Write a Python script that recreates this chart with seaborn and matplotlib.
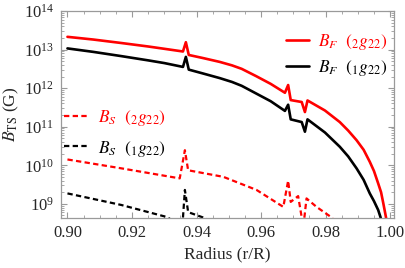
import numpy as np
import pandas as pd
import matplotlib
matplotlib.use("Agg")
import matplotlib.pyplot as plt
import seaborn as sns
from matplotlib.ticker import LogLocator, MultipleLocator, FormatStrFormatter, NullFormatter

# ---- data (log10 of B in Gauss) ----
r_F1 = [0.900, 0.908, 0.9167, 0.925, 0.930, 0.9358, 0.9367, 0.9376, 0.942, 0.9472,
        0.951, 0.9540, 0.9585, 0.963, 0.9674, 0.9684, 0.9692, 0.9726, 0.9736, 0.9744,
        0.9798, 0.9844, 0.9870, 0.9896, 0.9918, 0.9937, 0.9950, 0.9963, 0.9970, 0.9976]
logB_F1 = [13.03, 12.94, 12.83, 12.72, 12.65, 12.55, 12.81, 12.48, 12.38, 12.26,
           12.16, 12.06, 11.86, 11.66, 11.41, 11.57, 11.19, 11.12, 10.87, 11.19,
           10.85, 10.48, 10.23, 9.92, 9.62, 9.27, 9.07, 8.84, 8.66, 8.45]

r_F2 = [0.900, 0.908, 0.9167, 0.925, 0.930, 0.9358, 0.9367, 0.9376, 0.942, 0.9472,
        0.951, 0.9540, 0.9585, 0.963, 0.9674, 0.9684, 0.9692, 0.9726, 0.9736, 0.9744,
        0.9798, 0.9844, 0.9870, 0.9896, 0.9918, 0.9937, 0.9950, 0.9963, 0.9972, 0.9979,
        0.9987, 0.9992]
logB_F2 = [13.33, 13.26, 13.17, 13.08, 13.02, 12.95, 13.19, 12.86, 12.78, 12.68,
           12.59, 12.50, 12.31, 12.11, 11.88, 12.08, 11.69, 11.64, 11.38, 11.68,
           11.42, 11.12, 10.90, 10.65, 10.40, 10.09, 9.85, 9.53, 9.30, 9.01,
           8.66, 8.40]

r_S2 = [0.900, 0.9167, 0.9348, 0.9364, 0.9374, 0.9483, 0.9586, 0.9669, 0.9684,
        0.9692, 0.9715, 0.9731, 0.9741, 0.9772, 0.9813, 0.9850]
logB_S2 = [10.15, 9.92, 9.66, 10.39, 9.87, 9.70, 9.36, 8.92, 9.60,
           9.05, 9.20, 8.40, 9.14, 8.92, 8.68, 8.40]

r_S1 = [0.900, 0.9167, 0.9307, 0.9340, 0.9356, 0.9364, 0.9374, 0.9379, 0.9419, 0.9460]
logB_S1 = [9.27, 8.97, 8.66, 8.50, 8.40, 9.36, 8.79, 8.77, 8.65, 8.50]

labels = [r"$B_F$  $({}_2g_{22})$", r"$B_F$  $({}_1g_{22})$",
          r"$B_S$  $({}_2g_{22})$", r"$B_S$  $({}_1g_{22})$"]
x_ticks = [0.90, 0.92, 0.94, 0.96, 0.98, 1.00]

sns.set_style("ticks")
plt.rcParams["font.family"] = ["Liberation Serif", "DejaVu Serif"]
plt.rcParams["mathtext.fontset"] = "stix"

fig = plt.figure(figsize=(4.05, 2.68), dpi=100)
ax = fig.add_axes([61/405, 1-217.7/268, 333.3/405, 206.7/268])

def frame(r, lb):
    return pd.DataFrame({"r": r, "B": 10.0 ** np.array(lb)})

sns.lineplot(data=frame(r_F2, logB_F2), x="r", y="B", ax=ax, color="#ff0000",
             lw=1.9, estimator=None, label=labels[0])
sns.lineplot(data=frame(r_F1, logB_F1), x="r", y="B", ax=ax, color="black",
             lw=1.9, estimator=None, label=labels[1])
sns.lineplot(data=frame(r_S2, logB_S2), x="r", y="B", ax=ax, color="#ff0000",
             lw=1.6, estimator=None, label=labels[2])
sns.lineplot(data=frame(r_S1, logB_S1), x="r", y="B", ax=ax, color="black",
             lw=1.6, estimator=None, label=labels[3])
lines = ax.get_lines()
lines[2].set_dashes([2.4, 1.5])
lines[3].set_dashes([2.4, 1.5])

ax.set_yscale("log")
ax.set_xlim(0.898, 1.0013)
ax.set_ylim(10**8.64, 1e14)

ax.xaxis.set_major_locator(plt.FixedLocator(x_ticks))
ax.xaxis.set_major_formatter(FormatStrFormatter("%.2f"))
ax.xaxis.set_minor_locator(MultipleLocator(0.005))
ax.yaxis.set_major_locator(LogLocator(base=10, numticks=20))
ax.yaxis.set_minor_locator(LogLocator(base=10, subs=np.arange(2, 10), numticks=20))
ax.yaxis.set_minor_formatter(NullFormatter())

ax.tick_params(which="both", direction="in", top=True, right=True, color="#9a9a9a",
               labelsize=12, pad=5)
ax.tick_params(which="major", length=4, width=0.8)
ax.tick_params(which="minor", length=2, width=0.6)
for s in ax.spines.values():
    s.set_color("#9a9a9a")
    s.set_linewidth(0.9)

ax.set_xlabel("Radius (r/R)", fontsize=12.5, labelpad=4)
ax.set_ylabel(r"$B_{\rm TS}$ (G)", fontsize=12.5, labelpad=2)

h, _ = ax.get_legend_handles_labels()
leg1 = ax.legend(h[:2], labels[:2], loc="upper left", bbox_to_anchor=(0.675, 0.9),
                 frameon=False, fontsize=12.5, handlelength=1.3, handletextpad=0.55,
                 labelspacing=0.35, borderpad=0, borderaxespad=0)
for t, c in zip(leg1.get_texts(), ["#ff0000", "black"]):
    t.set_color(c)
ax.add_artist(leg1)
leg2 = ax.legend(h[2:], labels[2:], loc="upper left", bbox_to_anchor=(0.008, 0.53),
                 frameon=False, fontsize=12.5, handlelength=1.35, handletextpad=0.65,
                 labelspacing=0.6, borderpad=0, borderaxespad=0)
for t, c in zip(leg2.get_texts(), ["#ff0000", "black"]):
    t.set_color(c)

fig.savefig("out.png", dpi=100)
